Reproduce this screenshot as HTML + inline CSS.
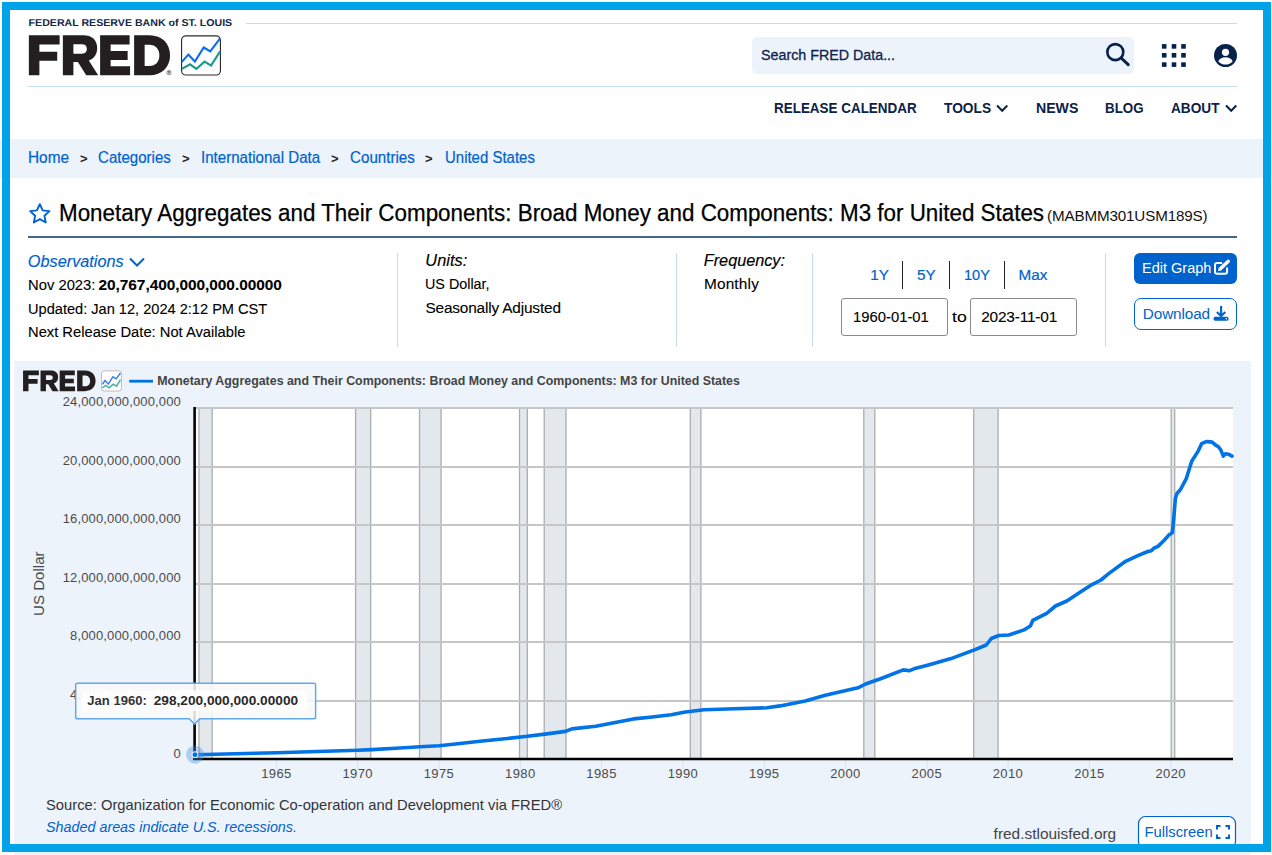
<!DOCTYPE html>
<html>
<head>
<meta charset="utf-8">
<title>FRED</title>
<style>
html,body{margin:0;padding:0;background:#fff;}
body{width:1272px;height:855px;position:relative;overflow:hidden;font-family:"Liberation Sans",sans-serif;color:#111;}
.abs{position:absolute;white-space:nowrap;}
.t{position:absolute;white-space:nowrap;line-height:1;}
a{color:#0062cc;text-decoration:none;}
.hl{position:absolute;height:1px;background:#c3ddec;}
.vl{position:absolute;width:1px;background:#c3ddec;}
.nav{font-weight:bold;font-size:15px;color:#0a2247;letter-spacing:-0.2px;}
.bc{font-size:15px;color:#0062cc;-webkit-text-stroke:0.2px #0062cc;}
.sep{font-size:13px;color:#222;font-weight:bold;}
.info{font-size:15px;color:#000;-webkit-text-stroke:0.12px #000;}
.it{font-style:italic;font-size:16px;color:#000;-webkit-text-stroke:0.15px;}
</style>
</head>
<body>

<!-- ============ HEADER ============ -->
<svg class="abs" style="left:0;top:0;" width="260" height="34" viewBox="0 0 260 34"><text transform="translate(28.6,26.3) scale(0.5305,0.5)" text-rendering="geometricPrecision" font-family="Liberation Sans, sans-serif" font-size="20" font-weight="bold" fill="#13294b">FEDERAL RESERVE BANK of ST. LOUIS</text></svg>
<div class="hl" style="left:246px;top:23px;width:991px;"></div>
<div class="hl" style="left:28px;top:86px;width:1209px;"></div>

<!-- FRED logo -->
<svg class="abs" style="left:24px;top:30px;" width="206" height="52" viewBox="0 0 1272 321">
  <g fill="#231f20">
    <!-- F -->
    <path d="M30 33H220V90H95V135H205V190H95V280H30Z"/>
    <!-- R -->
    <path d="M240 33H365C420 33 452 62 452 112C452 150 432 176 400 188L458 280H384L333 198H305V280H240ZM305 88V146H358C378 146 388 134 388 117C388 99 378 88 358 88Z" fill-rule="evenodd"/>
    <!-- E -->
    <path d="M470 33H652V89H535V130H640V185H535V224H655V280H470Z"/>
    <!-- D -->
    <path d="M680 33H775C852 33 902 84 902 156C902 229 852 280 775 280H680ZM745 91V222H775C812 222 836 196 836 157C836 117 812 91 775 91Z" fill-rule="evenodd"/>
  </g>
  <circle cx="895" cy="263" r="13.5" fill="none" stroke="#444" stroke-width="3.5"/><text x="895" y="271" font-size="21" font-weight="bold" fill="#444" text-anchor="middle" font-family="Liberation Sans, sans-serif">R</text>
  <rect x="973" y="36" width="240" height="242" rx="26" fill="#fff" stroke="#2b2b2b" stroke-width="7"/>
  <polyline points="975,197 1015,152 1055,195 1110,108 1150,132 1211,52" fill="none" stroke="#0a6cf0" stroke-width="13" stroke-linejoin="miter"/>
  <polyline points="975,240 1025,212 1065,240 1115,195 1155,220 1211,132" fill="none" stroke="#1a9a8a" stroke-width="13" stroke-linejoin="miter"/>
</svg>

<!-- search -->
<div class="abs" style="left:752.3px;top:37.2px;width:381.5px;height:36.4px;background:#edf3fb;border-radius:5px;"></div>
<div class="t" id="srch" style="left:761.3px;top:46.9px;font-size:15.5px;letter-spacing:0px;transform:scaleX(0.9208);transform-origin:0 0;color:#0f2250;-webkit-text-stroke:0.3px #0f2250;">Search FRED Data...</div>
<svg class="abs" style="left:1104px;top:42px;" width="28" height="28" viewBox="0 0 28 28">
  <circle cx="11.3" cy="10.1" r="8" fill="none" stroke="#06224a" stroke-width="2.6"/>
  <path d="M17.2 16L24.2 22.6" stroke="#06224a" stroke-width="3" stroke-linecap="round"/>
</svg>
<!-- grid icon -->
<svg class="abs" style="left:1161px;top:43px;" width="26" height="25" viewBox="0 0 26 25"><g fill="#06224a"><rect x="0.9" y="1.1" width="4.6" height="4.6"/><rect x="10.7" y="1.1" width="4.6" height="4.6"/><rect x="20.2" y="1.1" width="4.6" height="4.6"/><rect x="0.9" y="10.0" width="4.6" height="4.6"/><rect x="10.7" y="10.0" width="4.6" height="4.6"/><rect x="20.2" y="10.0" width="4.6" height="4.6"/><rect x="0.9" y="19.3" width="4.6" height="4.6"/><rect x="10.7" y="19.3" width="4.6" height="4.6"/><rect x="20.2" y="19.3" width="4.6" height="4.6"/></g></svg>
<!-- user icon -->
<svg class="abs" style="left:1213px;top:43px;" width="25" height="25" viewBox="0 0 25 25">
  <circle cx="12.5" cy="12.5" r="11.5" fill="#06224a"/>
  <circle cx="12.5" cy="9.3" r="3.6" fill="#fff"/>
  <path d="M5.3 18.2C6.6 15.3 9.4 14.2 12.5 14.2C15.6 14.2 18.4 15.3 19.7 18.2C18 20.3 15.4 21.6 12.5 21.6C9.6 21.6 7 20.3 5.3 18.2Z" fill="#fff"/>
</svg>

<!-- nav -->
<div class="t nav" id="n1" style="left:773.5px;top:100.1px;font-size:15.5px;letter-spacing:0px;transform:scaleX(0.8673);transform-origin:0 0;">RELEASE CALENDAR</div>
<div class="t nav" id="n2" style="left:944.0px;top:100.1px;font-size:15.5px;letter-spacing:0px;transform:scaleX(0.8859);transform-origin:0 0;">TOOLS</div>
<svg class="abs" style="left:995.5px;top:103.7px;" width="12.4" height="9.3" viewBox="0 0 12 9"><path d="M1 1.5L6 6.5L11 1.5" fill="none" stroke="#0a2247" stroke-width="2"/></svg>
<div class="t nav" id="n3" style="left:1035.7px;top:100.1px;font-size:15.5px;letter-spacing:0px;transform:scaleX(0.9108);transform-origin:0 0;">NEWS</div>
<div class="t nav" id="n4" style="left:1105.4px;top:100.1px;font-size:15.5px;letter-spacing:0px;transform:scaleX(0.8609);transform-origin:0 0;">BLOG</div>
<div class="t nav" id="n5" style="left:1171.3px;top:100.1px;font-size:15.5px;letter-spacing:0px;transform:scaleX(0.8810);transform-origin:0 0;">ABOUT</div>
<svg class="abs" style="left:1225px;top:103.7px;" width="12.4" height="9.3" viewBox="0 0 12 9"><path d="M1 1.5L6 6.5L11 1.5" fill="none" stroke="#0a2247" stroke-width="2"/></svg>

<!-- ============ BREADCRUMB ============ -->
<div class="abs" style="left:0;top:139px;width:1272px;height:38.5px;background:#edf3fb;"></div>
<div class="t bc" id="b1" style="left:27.6px;top:149.9px;font-size:15.8px;letter-spacing:0px;transform:scaleX(0.9748);transform-origin:0 0;">Home</div>
<div class="t sep" style="left:80px;top:152px;">&gt;</div>
<div class="t bc" id="b2" style="left:98.1px;top:149.9px;font-size:15.8px;letter-spacing:0px;transform:scaleX(0.9538);transform-origin:0 0;">Categories</div>
<div class="t sep" style="left:182px;top:152px;">&gt;</div>
<div class="t bc" id="b3" style="left:200.8px;top:149.9px;font-size:15.8px;letter-spacing:0px;transform:scaleX(0.9557);transform-origin:0 0;">International Data</div>
<div class="t sep" style="left:331px;top:152px;">&gt;</div>
<div class="t bc" id="b4" style="left:349.8px;top:149.9px;font-size:15.8px;letter-spacing:0px;transform:scaleX(0.9596);transform-origin:0 0;">Countries</div>
<div class="t sep" style="left:425px;top:152px;">&gt;</div>
<div class="t bc" id="b5" style="left:444.5px;top:149.9px;font-size:15.8px;letter-spacing:0px;transform:scaleX(0.9477);transform-origin:0 0;">United States</div>

<!-- ============ TITLE ============ -->
<svg class="abs" style="left:24px;top:198px;" width="32" height="30" viewBox="24 198 32 30"><path d="M39.80 204.20L42.68 210.34L49.41 211.18L44.46 215.81L45.74 222.47L39.80 219.20L33.86 222.47L35.14 215.81L30.19 211.18L36.92 210.34Z" fill="none" stroke="#0062cc" stroke-width="1.9" stroke-linejoin="round"/></svg>
<div class="t" id="title" style="left:58.8px;top:201.5px;font-size:23.3px;letter-spacing:0px;transform:scaleX(0.9608);transform-origin:0 0;color:#000;-webkit-text-stroke:0.25px #000;">Monetary Aggregates and Their Components: Broad Money and Components: M3 for United States</div>
<div class="t" id="sid" style="left:1047.1px;top:208.3px;font-size:15.2px;letter-spacing:-0.15px;color:#111;">(MABMM301USM189S)</div>
<div class="abs" style="left:28px;top:236px;width:1209px;height:2px;background:#44688c;"></div>

<!-- ============ INFO ROW ============ -->
<div class="t it" id="obs" style="left:27.8px;top:253.0px;font-size:16.3px;letter-spacing:-0.00px;color:#0062cc;-webkit-text-stroke:0.15px #0062cc;">Observations</div>
<svg class="abs" style="left:128px;top:256px;" width="18" height="12" viewBox="0 0 18 12"><path d="M2 2.5L9 9.5L16 2.5" fill="none" stroke="#0062cc" stroke-width="2"/></svg>
<div class="t info" id="i1" style="left:27.9px;top:276.9px;font-size:15.4px;letter-spacing:0px;transform:scaleX(0.9611);transform-origin:0 0;">Nov 2023:</div>
<div class="t info" id="i1b" style="left:98.5px;top:276.9px;font-size:15.4px;letter-spacing:-0.03px;font-weight:bold;">20,767,400,000,000.00000</div>
<div class="t info" id="i2" style="left:27.9px;top:301.4px;font-size:15.4px;letter-spacing:0px;transform:scaleX(0.9479);transform-origin:0 0;">Updated: Jan 12, 2024 2:12 PM CST</div>
<div class="t info" id="i3" style="left:27.9px;top:324.4px;font-size:15.4px;letter-spacing:0px;transform:scaleX(0.9566);transform-origin:0 0;">Next Release Date: Not Available</div>
<div class="vl" style="left:397px;top:253px;height:94px;"></div>
<div class="t it" id="u0" style="left:425.3px;top:252.2px;font-size:16.3px;letter-spacing:0.08px;">Units:</div>
<div class="t info" id="u1" style="left:425.4px;top:276.1px;font-size:15.4px;letter-spacing:0px;transform:scaleX(0.9316);transform-origin:0 0;">US Dollar,</div>
<div class="t info" id="u2" style="left:425.4px;top:300.3px;font-size:15.4px;letter-spacing:-0.17px;">Seasonally Adjusted</div>
<div class="vl" style="left:676px;top:253px;height:94px;"></div>
<div class="t it" id="f0" style="left:703.8px;top:252.2px;font-size:16.3px;letter-spacing:-0.03px;">Frequency:</div>
<div class="t info" id="f1" style="left:703.9px;top:276.1px;font-size:15.4px;letter-spacing:0.18px;">Monthly</div>
<div class="vl" style="left:812px;top:253px;height:94px;"></div>

<div class="t bc" id="r1" style="left:870.3px;top:267.0px;font-size:15.3px;letter-spacing:-0.14px;">1Y</div>
<div class="abs" style="left:902px;top:261px;width:1px;height:28px;background:#222;"></div>
<div class="t bc" id="r2" style="left:917.0px;top:267.0px;font-size:15.3px;letter-spacing:0.01px;">5Y</div>
<div class="abs" style="left:949px;top:261px;width:1px;height:28px;background:#222;"></div>
<div class="t bc" id="r3" style="left:963.6px;top:267.0px;font-size:15.3px;letter-spacing:0px;transform:scaleX(0.9527);transform-origin:0 0;">10Y</div>
<div class="abs" style="left:1004px;top:261px;width:1px;height:28px;background:#222;"></div>
<div class="t bc" id="r4" style="left:1018.4px;top:267.0px;font-size:15.3px;letter-spacing:0.11px;">Max</div>

<div class="abs" style="left:841px;top:298px;width:105px;height:36px;border:1px solid #8a8a8a;border-radius:3px;background:#fff;"></div>
<div class="t info" id="d1" style="left:852.8px;top:309.0px;font-size:15.4px;letter-spacing:0px;transform:scaleX(0.9632);transform-origin:0 0;">1960-01-01</div>
<div class="t info" id="dto" style="left:951.8px;top:309.0px;font-size:15.4px;letter-spacing:0px;transform:scaleX(1.1476);transform-origin:0 0;">to</div>
<div class="abs" style="left:970px;top:298px;width:105px;height:36px;border:1px solid #8a8a8a;border-radius:3px;background:#fff;"></div>
<div class="t info" id="d2" style="left:981.2px;top:309.0px;font-size:15.4px;letter-spacing:-0.17px;">2023-11-01</div>
<div class="vl" style="left:1105px;top:253px;height:94px;"></div>

<div class="abs" style="left:1133.8px;top:252.8px;width:103.2px;height:31.2px;background:#0062cc;border-radius:6px;"></div>
<div class="t" id="eg" style="left:1141.5px;top:260.2px;font-size:15.3px;letter-spacing:0px;transform:scaleX(0.9495);transform-origin:0 0;color:#fff;">Edit Graph</div>
<svg class="abs" style="left:1210px;top:256px;" width="24" height="22" viewBox="1210 256 24 22">
  <path d="M1221.3 263.1H1217Q1215 263.1 1215 265.1V271.7Q1215 273.7 1217 273.7H1225.1Q1227.1 273.7 1227.1 271.7V268.3" fill="none" stroke="#fff" stroke-width="2" stroke-linecap="round"/>
  <path d="M1220.6 268.6L1228.3 261.2" fill="none" stroke="#fff" stroke-width="3.4" stroke-linecap="round"/>
  <path d="M1218 271L1218.9 267.5L1221.6 270.2Z" fill="#fff"/>
</svg>
<div class="abs" style="left:1134px;top:298px;width:101px;height:30px;border:1.2px solid #0062cc;border-radius:7px;background:#fff;"></div>
<div class="t" id="dl" style="left:1142.8px;top:306.0px;font-size:15.3px;letter-spacing:-0.11px;color:#0062cc;">Download</div>
<svg class="abs" style="left:1210px;top:302px;" width="24" height="22" viewBox="1210 302 24 22">
  <path d="M1221.1 306.1V316M1216.9 311.9L1221.1 316.1L1225.3 311.9" fill="none" stroke="#0062cc" stroke-width="2.1"/>
  <rect x="1213.5" y="316.7" width="15.1" height="4" rx="1.7" fill="#0062cc"/>
  <circle cx="1226.3" cy="318.8" r="0.8" fill="#fff"/>
</svg>

<!-- ============ CHART ============ -->
<div class="abs" id="chartbg" style="left:14px;top:361px;width:1237px;height:500px;background:#edf3fb;"></div>
<!--CHART_START-->
<svg class="abs" style="left:0;top:0;" width="1272" height="855" viewBox="0 0 1272 855" font-family="Liberation Sans, sans-serif">
<rect x="195" y="407" width="1038" height="352" fill="#fff"/>
<rect x="199" y="407" width="13.2" height="352" fill="#e3e8ed"/>
<path d="M199 407V759M212.2 407V759" stroke="#abadaf" stroke-width="1.3" fill="none"/>
<rect x="355.6" y="407" width="15.1" height="352" fill="#e3e8ed"/>
<path d="M355.6 407V759M370.7 407V759" stroke="#abadaf" stroke-width="1.3" fill="none"/>
<rect x="419.5" y="407" width="21.6" height="352" fill="#e3e8ed"/>
<path d="M419.5 407V759M441.1 407V759" stroke="#abadaf" stroke-width="1.3" fill="none"/>
<rect x="519.5" y="407" width="7.8" height="352" fill="#e3e8ed"/>
<path d="M519.5 407V759M527.3 407V759" stroke="#abadaf" stroke-width="1.3" fill="none"/>
<rect x="544.2" y="407" width="21.8" height="352" fill="#e3e8ed"/>
<path d="M544.2 407V759M566 407V759" stroke="#abadaf" stroke-width="1.3" fill="none"/>
<rect x="690.3" y="407" width="10.6" height="352" fill="#e3e8ed"/>
<path d="M690.3 407V759M700.9 407V759" stroke="#abadaf" stroke-width="1.3" fill="none"/>
<rect x="863.8" y="407" width="11.0" height="352" fill="#e3e8ed"/>
<path d="M863.8 407V759M874.8 407V759" stroke="#abadaf" stroke-width="1.3" fill="none"/>
<rect x="973.7" y="407" width="24.4" height="352" fill="#e3e8ed"/>
<path d="M973.7 407V759M998.1 407V759" stroke="#abadaf" stroke-width="1.3" fill="none"/>
<rect x="1171.2" y="407" width="3.5" height="352" fill="#e3e8ed"/>
<path d="M1171.2 407V759M1174.7 407V759" stroke="#abadaf" stroke-width="1.3" fill="none"/>
<path d="M195 408H1233" stroke="#c6c6c6" stroke-width="2" fill="none"/>
<path d="M195 467H1233" stroke="#c6c6c6" stroke-width="2" fill="none"/>
<path d="M195 525H1233" stroke="#c6c6c6" stroke-width="2" fill="none"/>
<path d="M195 584H1233" stroke="#c6c6c6" stroke-width="2" fill="none"/>
<path d="M195 642H1233" stroke="#c6c6c6" stroke-width="2" fill="none"/>
<path d="M195 701H1233" stroke="#c6c6c6" stroke-width="2" fill="none"/>
<path d="M276.4 760V769" stroke="#d6e3f0" stroke-width="1" fill="none"/>
<text x="276.4" y="778" font-size="13" fill="#4a4a4a" text-anchor="middle" letter-spacing="0.4">1965</text>
<path d="M357.7 760V769" stroke="#d6e3f0" stroke-width="1" fill="none"/>
<text x="357.7" y="778" font-size="13" fill="#4a4a4a" text-anchor="middle" letter-spacing="0.4">1970</text>
<path d="M439 760V769" stroke="#d6e3f0" stroke-width="1" fill="none"/>
<text x="439" y="778" font-size="13" fill="#4a4a4a" text-anchor="middle" letter-spacing="0.4">1975</text>
<path d="M520.3 760V769" stroke="#d6e3f0" stroke-width="1" fill="none"/>
<text x="520.3" y="778" font-size="13" fill="#4a4a4a" text-anchor="middle" letter-spacing="0.4">1980</text>
<path d="M601.6 760V769" stroke="#d6e3f0" stroke-width="1" fill="none"/>
<text x="601.6" y="778" font-size="13" fill="#4a4a4a" text-anchor="middle" letter-spacing="0.4">1985</text>
<path d="M683 760V769" stroke="#d6e3f0" stroke-width="1" fill="none"/>
<text x="683" y="778" font-size="13" fill="#4a4a4a" text-anchor="middle" letter-spacing="0.4">1990</text>
<path d="M764.2 760V769" stroke="#d6e3f0" stroke-width="1" fill="none"/>
<text x="764.2" y="778" font-size="13" fill="#4a4a4a" text-anchor="middle" letter-spacing="0.4">1995</text>
<path d="M845.5 760V769" stroke="#d6e3f0" stroke-width="1" fill="none"/>
<text x="845.5" y="778" font-size="13" fill="#4a4a4a" text-anchor="middle" letter-spacing="0.4">2000</text>
<path d="M926.8 760V769" stroke="#d6e3f0" stroke-width="1" fill="none"/>
<text x="926.8" y="778" font-size="13" fill="#4a4a4a" text-anchor="middle" letter-spacing="0.4">2005</text>
<path d="M1008 760V769" stroke="#d6e3f0" stroke-width="1" fill="none"/>
<text x="1008" y="778" font-size="13" fill="#4a4a4a" text-anchor="middle" letter-spacing="0.4">2010</text>
<path d="M1089.4 760V769" stroke="#d6e3f0" stroke-width="1" fill="none"/>
<text x="1089.4" y="778" font-size="13" fill="#4a4a4a" text-anchor="middle" letter-spacing="0.4">2015</text>
<path d="M1170.7 760V769" stroke="#d6e3f0" stroke-width="1" fill="none"/>
<text x="1170.7" y="778" font-size="13" fill="#4a4a4a" text-anchor="middle" letter-spacing="0.4">2020</text>
<text x="181" y="406.0" font-size="13" fill="#4a4a4a" text-anchor="end" letter-spacing="0.15">24,000,000,000,000</text>
<text x="181" y="464.5" font-size="13" fill="#4a4a4a" text-anchor="end" letter-spacing="0.15">20,000,000,000,000</text>
<text x="181" y="523.0" font-size="13" fill="#4a4a4a" text-anchor="end" letter-spacing="0.15">16,000,000,000,000</text>
<text x="181" y="581.5" font-size="13" fill="#4a4a4a" text-anchor="end" letter-spacing="0.15">12,000,000,000,000</text>
<text x="181" y="640.0" font-size="13" fill="#4a4a4a" text-anchor="end" letter-spacing="0.15">8,000,000,000,000</text>
<text x="181" y="698.5" font-size="13" fill="#4a4a4a" text-anchor="end" letter-spacing="0.15">4,000,000,000,000</text>
<text x="181" y="758.0" font-size="13" fill="#4a4a4a" text-anchor="end" letter-spacing="0.15">0</text>
<text transform="translate(44.2,583.7) rotate(-90)" font-size="15" fill="#4a4a4a" text-anchor="middle" textLength="64.5" lengthAdjust="spacingAndGlyphs">US Dollar</text>
<path d="M195.0 754.7 L277.0 752.7 L358.0 750.2 L372.0 749.6 L400.0 748.0 L420.0 746.7 L439.0 745.7 L460.0 743.5 L480.0 741.3 L500.0 739.3 L525.3 736.5 L545.0 734.1 L565.5 731.4 L571.8 728.9 L595.7 726.2 L633.5 718.9 L650.0 717.2 L671.2 714.8 L683.8 712.3 L703.9 709.8 L735.0 708.7 L766.8 707.8 L780.0 705.9 L805.2 700.9 L825.3 695.3 L858.0 687.8 L865.5 684.0 L880.6 678.7 L903.3 669.9 L909.6 670.7 L915.8 668.2 L928.4 664.9 L951.1 658.6 L973.7 650.1 L986.3 645.0 L991.3 638.5 L998.9 635.5 L1008.9 635.0 L1024.0 629.9 L1030.3 625.9 L1032.8 620.4 L1046.7 613.3 L1055.5 606.0 L1066.8 601.0 L1081.9 590.9 L1090.5 585.4 L1101.0 580.0 L1108.0 574.1 L1125.6 561.3 L1138.4 555.4 L1147.8 551.5 L1151.3 550.8 L1153.6 548.4 L1158.3 546.1 L1164.2 540.3 L1168.8 535.1 L1172.3 532.8 L1173.5 521.6 L1175.4 498.2 L1177.0 493.5 L1180.5 489.5 L1186.4 478.3 L1191.7 461.2 L1198.0 451.4 L1201.6 443.7 L1205.1 442.1 L1207.4 441.6 L1212.1 442.1 L1215.6 445.1 L1218.4 446.8 L1221.0 450.3 L1223.3 456.1 L1225.4 453.8 L1228.4 454.2 L1232.0 456.1" stroke="#0073e6" stroke-width="3.6" fill="none" stroke-linejoin="round" stroke-linecap="round"/>
<path d="M194.6 407V760" stroke="#000" stroke-width="2.6" fill="none"/>
<path d="M193 759H1233" stroke="#000" stroke-width="2.4" fill="none"/>
<circle cx="195" cy="754.7" r="9" fill="#4a90e2" fill-opacity="0.38"/>
<circle cx="195" cy="754.7" r="3" fill="#0073e6" stroke="#fff" stroke-width="1"/>
<path d="M77.5 683.2H313.8Q315.6 683.2 315.6 685V717Q315.6 718.8 313.8 718.8H199.8L194.5 724.1L189.2 718.8H77.5Q75.7 718.8 75.7 717V685Q75.7 683.2 77.5 683.2Z" fill="#f9f9f9" fill-opacity="0.88" stroke="#62a8f0" stroke-width="1.5"/>
<rect x="82" y="690.2" width="225.3" height="20.8" fill="#fff" fill-opacity="0.8"/>
<text x="87.3" y="705" font-size="12.8" font-weight="bold" fill="#333" textLength="59.5" lengthAdjust="spacingAndGlyphs">Jan 1960:</text>
<text x="153.7" y="705" font-size="12.8" font-weight="bold" fill="#2a2a2a" textLength="144.4" lengthAdjust="spacingAndGlyphs">298,200,000,000.00000</text>
<path d="M129.2 381.2H153" stroke="#0073e6" stroke-width="2.8"/>
<text x="157.3" y="384.9" font-size="12.2" font-weight="bold" fill="#444" textLength="582.6" lengthAdjust="spacingAndGlyphs">Monetary Aggregates and Their Components: Broad Money and Components: M3 for United States</text>
<g transform="translate(20.57,367.86) scale(0.08316)">
  <g fill="#231f20">
    <path d="M30 33H220V90H95V135H205V190H95V280H30Z"/>
    <path d="M240 33H365C420 33 452 62 452 112C452 150 432 176 400 188L458 280H384L333 198H305V280H240ZM305 88V146H358C378 146 388 134 388 117C388 99 378 88 358 88Z" fill-rule="evenodd"/>
    <path d="M470 33H652V89H535V130H640V185H535V224H655V280H470Z"/>
    <path d="M680 33H775C852 33 902 84 902 156C902 229 852 280 775 280H680ZM745 91V222H775C812 222 836 196 836 157C836 117 812 91 775 91Z" fill-rule="evenodd"/>
  </g>
  <rect x="973" y="36" width="240" height="242" rx="30" fill="#fff" stroke="#a8a8a8" stroke-width="9"/>
  <polyline points="985,197 1015,152 1055,195 1110,108 1150,132 1201,62" fill="none" stroke="#3a84e8" stroke-width="18"/>
  <polyline points="985,240 1025,212 1065,240 1115,195 1155,220 1201,142" fill="none" stroke="#4aaea0" stroke-width="18"/>
</g>
<text x="46" y="810" font-size="14.8" fill="#333" textLength="516" lengthAdjust="spacingAndGlyphs">Source: Organization for Economic Co-operation and Development via FRED®</text>
<text x="46" y="832" font-size="14.8" font-style="italic" fill="#0062cc" textLength="251" lengthAdjust="spacingAndGlyphs">Shaded areas indicate U.S. recessions.</text>
<text x="993.6" y="839.2" font-size="14.8" fill="#444" textLength="122.6" lengthAdjust="spacingAndGlyphs">fred.stlouisfed.org</text>
<rect x="1138.5" y="816.5" width="97" height="32" rx="7" fill="#fff" stroke="#0062cc" stroke-width="1.2"/>
<text x="1144.4" y="836.5" font-size="14.8" fill="#0062cc" textLength="68.4" lengthAdjust="spacingAndGlyphs">Fullscreen</text>
<path d="M1217 829.5V826H1220.5M1225.500 826H1229V829.5M1229 834.5V838H1225.5M1220.5 838H1217V834.5" stroke="#0062cc" stroke-width="2" fill="none"/>
</svg>
<!--CHART_END-->

<!-- ============ BORDER OVERLAY ============ -->
<div class="abs" style="left:2px;top:1px;width:1270px;height:1px;background:#fcf5ef;"></div>
<div class="abs" style="left:2px;top:2px;width:1253px;height:834px;border:8px solid #00a2e8;box-sizing:content-box;"></div>
</body>
</html>
